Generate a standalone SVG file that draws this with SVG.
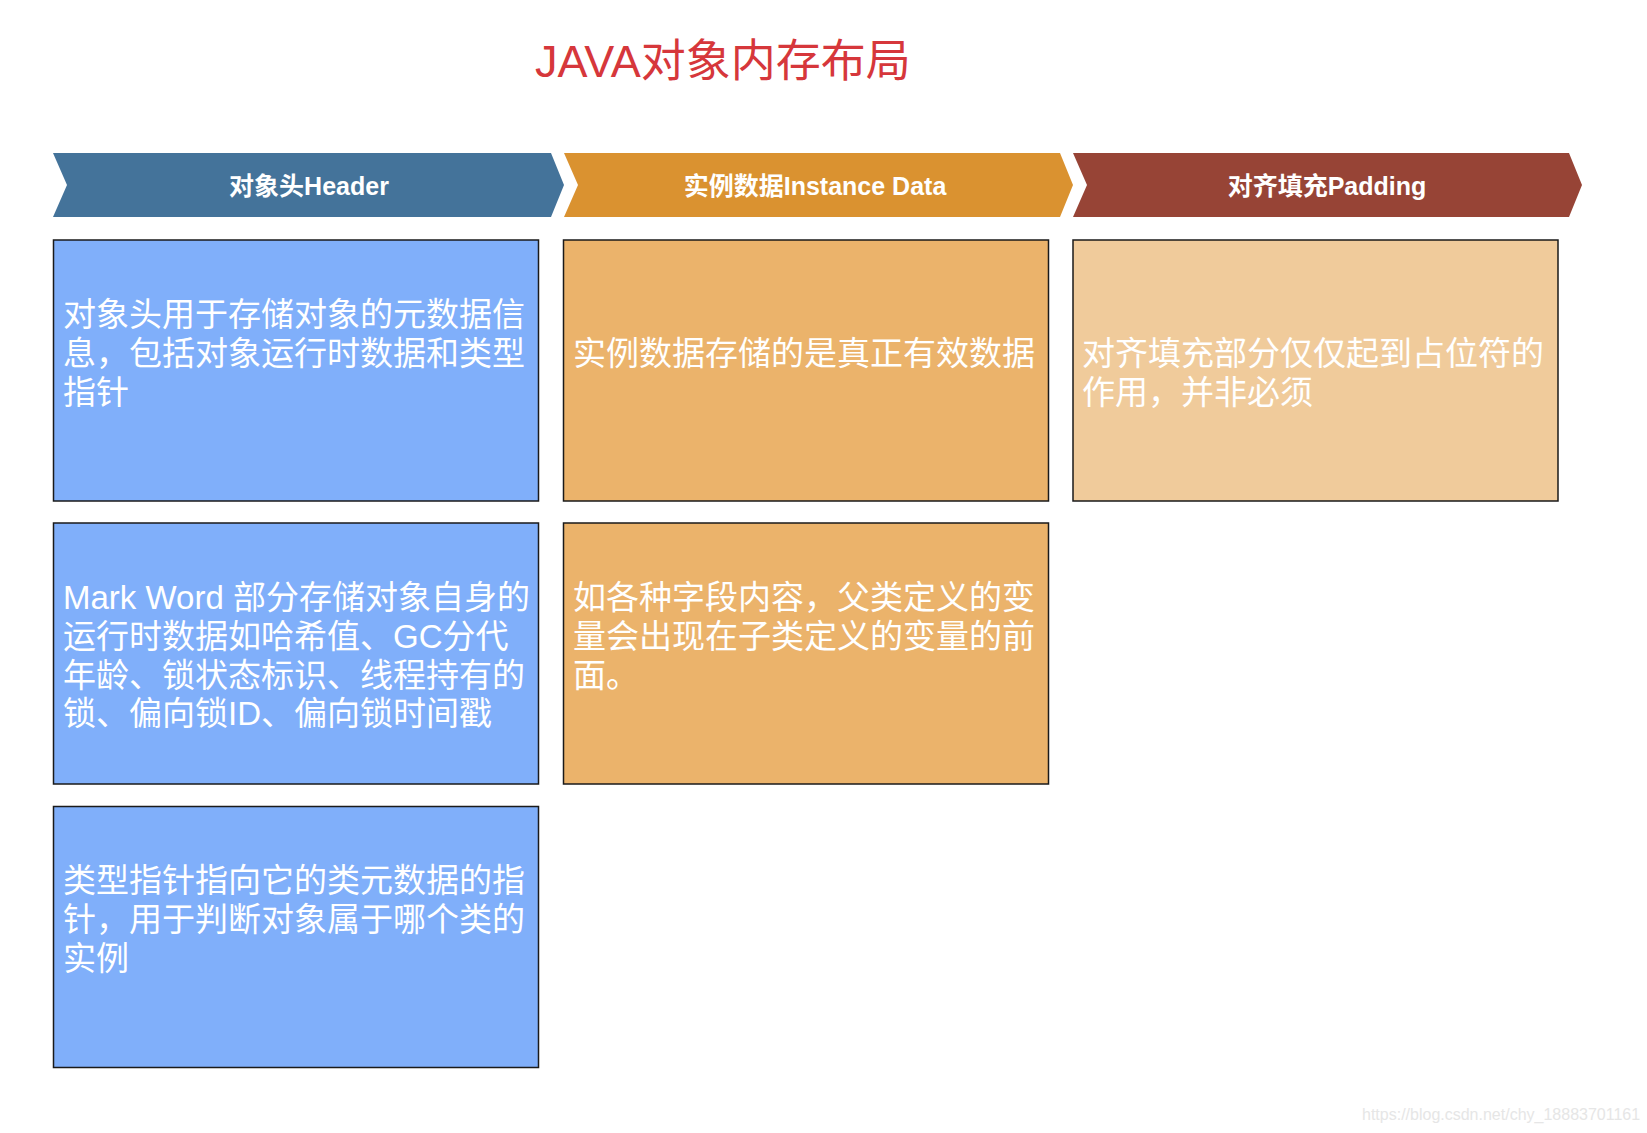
<svg xmlns="http://www.w3.org/2000/svg" width="1647" height="1133" viewBox="0 0 1647 1133">
<style>
.title{font-family:"Liberation Sans","Noto Sans CJK SC",sans-serif;font-size:45px;fill:#D6373B}
.hdr{font-family:"Liberation Sans","Noto Sans CJK SC",sans-serif;font-size:25px;font-weight:bold;fill:#FFFFFF;text-anchor:middle}
.box{stroke:#1a1a1a;stroke-width:1.5}
.blue{fill:#80AFFA}
.orange{fill:#EBB36B}
.light{fill:#F0CB9B}
.txt{font-family:"Liberation Sans","Noto Sans CJK SC",sans-serif;font-size:33px;fill:#FFFFFF}
.wm{font-family:"Liberation Sans",sans-serif;font-size:16px;fill:#E6E6E6}
</style>
<rect x="0" y="0" width="1647" height="1133" fill="#FFFFFF"/>
<text class="title" x="535" y="77">JAVA对象内存布局</text>

<g id="header-object">
<polygon points="53,153 551,153 564,185 551,217 53,217 67,185" fill="#44739A"/>
<text class="hdr" x="309" y="195">对象头Header</text>
</g>
<g id="header-instance">
<polygon points="564,153 1060,153 1073,185 1060,217 564,217 578,185" fill="#DA9230"/>
<text class="hdr" x="815" y="195">实例数据Instance Data</text>
</g>
<g id="header-padding">
<polygon points="1073,153 1569,153 1582,185 1569,217 1073,217 1087,185" fill="#974436"/>
<text class="hdr" x="1327" y="195">对齐填充Padding</text>
</g>

<g id="box-header-1">
<rect class="box blue" x="53.5" y="240" width="485" height="261"/>
<text class="txt"><tspan x="63" y="326">对象头用于存储对象的元数据信</tspan><tspan x="63" y="365">息，包括对象运行时数据和类型</tspan><tspan x="63" y="404">指针</tspan></text>
</g>
<g id="box-header-2">
<rect class="box blue" x="53.5" y="523" width="485" height="261"/>
<text class="txt"><tspan x="63" y="609">Mark Word 部分存储对象自身的</tspan><tspan x="63" y="648">运行时数据如哈希值、GC分代</tspan><tspan x="63" y="687">年龄、锁状态标识、线程持有的</tspan><tspan x="63" y="725">锁、偏向锁ID、偏向锁时间戳</tspan></text>
</g>
<g id="box-header-3">
<rect class="box blue" x="53.5" y="806.5" width="485" height="261"/>
<text class="txt"><tspan x="63" y="892">类型指针指向它的类元数据的指</tspan><tspan x="63" y="931">针，用于判断对象属于哪个类的</tspan><tspan x="63" y="970">实例</tspan></text>
</g>
<g id="box-instance-1">
<rect class="box orange" x="563.5" y="240" width="485" height="261"/>
<text class="txt"><tspan x="573" y="365">实例数据存储的是真正有效数据</tspan></text>
</g>
<g id="box-instance-2">
<rect class="box orange" x="563.5" y="523" width="485" height="261"/>
<text class="txt"><tspan x="573" y="609">如各种字段内容，父类定义的变</tspan><tspan x="573" y="648">量会出现在子类定义的变量的前</tspan><tspan x="573" y="687">面。</tspan></text>
</g>
<g id="box-padding-1">
<rect class="box light" x="1073" y="240" width="485" height="261"/>
<text class="txt"><tspan x="1082" y="365">对齐填充部分仅仅起到占位符的</tspan><tspan x="1082" y="404">作用，并非必须</tspan></text>
</g>

<g id="connectors"></g>

<text class="wm" x="1362" y="1120">https://blog.csdn.net/chy_18883701161</text>
</svg>
